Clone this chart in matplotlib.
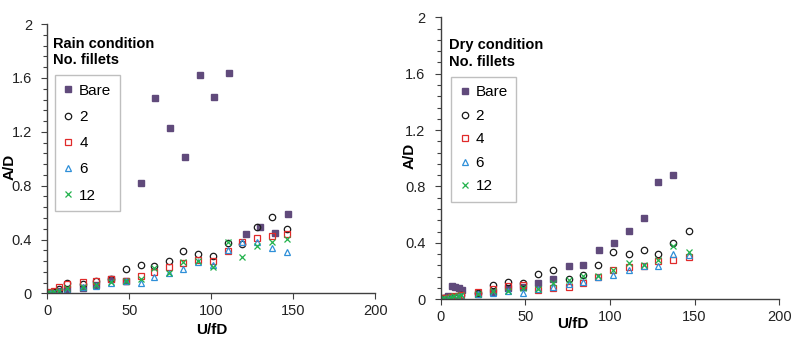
import matplotlib.pyplot as plt
from matplotlib.ticker import MultipleLocator

plt.rcParams['font.family'] = ['Liberation Sans', 'DejaVu Sans']

# rain condition
rain_x_bare = [0, 2, 4, 7, 12, 22, 30, 39, 48, 57, 66, 75, 84, 93, 102, 111, 121, 130, 139, 147]
rain_bare = [0, 0.005, 0.01, 0.02, 0.03, 0.04, 0.06, 0.11, 0.09, 0.82, 1.45, 1.23, 1.015, 1.62, 1.46, 1.64, 0.445, 0.49, 0.45, 0.59]
rain_x = [0, 2, 4, 7, 12, 22, 30, 39, 48, 57, 65, 74, 83, 92, 101, 110, 119, 128, 137, 146]
rain_2 = [0, 0.005, 0.01, 0.03, 0.075, 0.07, 0.09, 0.11, 0.178, 0.21, 0.203, 0.242, 0.316, 0.29, 0.277, 0.378, 0.365, 0.495, 0.57, 0.478]
rain_4 = [0, 0.01, 0.02, 0.045, 0.07, 0.086, 0.095, 0.105, 0.094, 0.128, 0.156, 0.198, 0.227, 0.247, 0.24, 0.314, 0.383, 0.408, 0.425, 0.445]
rain_6 = [0, 0, 0.005, 0.01, 0.025, 0.045, 0.055, 0.08, 0.09, 0.079, 0.119, 0.148, 0.178, 0.235, 0.21, 0.322, 0.379, 0.383, 0.341, 0.309]
rain_12 = [0, 0.003, 0.008, 0.015, 0.04, 0.05, 0.06, 0.085, 0.09, 0.11, 0.186, 0.148, 0.23, 0.24, 0.198, 0.383, 0.272, 0.351, 0.383, 0.401]

# dry condition
dry_x_bare = [0, 2, 4, 6.5, 8.5, 10.5, 12.5, 22, 31, 39.5, 48.5, 57.5, 66.5, 75.5, 84.3, 93.6, 102.4, 111.3, 120.2, 128.6, 137.5]
dry_bare = [0, 0.01, 0.02, 0.094, 0.09, 0.08, 0.065, 0.04, 0.05, 0.08, 0.085, 0.118, 0.144, 0.234, 0.24, 0.348, 0.402, 0.487, 0.579, 0.834, 0.884]
dry_x = [0, 2, 4, 6, 8, 10, 12, 22, 31, 39.5, 48.5, 57.5, 66.5, 75.5, 84, 93, 102, 111, 120, 128.6, 137.5, 146.4]
dry_2 = [0, 0.005, 0.01, 0.01, 0.015, 0.02, 0.03, 0.045, 0.1, 0.122, 0.113, 0.178, 0.21, 0.143, 0.17, 0.24, 0.332, 0.32, 0.347, 0.321, 0.397, 0.487]
dry_4 = [0.01, 0.005, 0.01, 0.015, 0.02, 0.025, 0.03, 0.05, 0.073, 0.094, 0.101, 0.066, 0.078, 0.09, 0.115, 0.156, 0.208, 0.227, 0.236, 0.271, 0.28, 0.302]
dry_6 = [0, 0, 0.003, 0.005, 0.01, 0.015, 0.02, 0.04, 0.045, 0.06, 0.045, 0.07, 0.089, 0.106, 0.125, 0.156, 0.172, 0.208, 0.236, 0.236, 0.321, 0.314]
dry_12 = [0, 0.005, 0.01, 0.015, 0.02, 0.025, 0.03, 0.04, 0.055, 0.06, 0.08, 0.07, 0.113, 0.137, 0.165, 0.163, 0.208, 0.26, 0.243, 0.279, 0.378, 0.338]

labels = ['Bare', '2', '4', '6', '12']
purple = '#604a7b'
black = '#1a1a1a'
red = '#e02a2a'
blue = '#2e8fd8'
green = '#22b24c'

fig = plt.figure(figsize=(8, 3.4), dpi=100)
ax1 = fig.add_axes([0.059, 0.137, 0.41, 0.792])
ax2 = fig.add_axes([0.551, 0.12, 0.423, 0.829])


def draw(ax, xb, bare, x, s2, s4, s6, s12, title, leg_xy, spacing, xlab_xy, ylab_xy):
    ax.plot(xb, bare, 's', ms=4.6, color=purple, mec=purple, label=labels[0])
    ax.plot(x, s2, 'o', ms=4.6, mfc='none', mec=black, mew=0.9, label=labels[1])
    ax.plot(x, s4, 's', ms=4.4, mfc='none', mec=red, mew=0.9, label=labels[2])
    ax.plot(x, s6, '^', ms=4.8, mfc='none', mec=blue, mew=0.9, label=labels[3])
    ax.plot(x, s12, 'x', ms=4.4, color=green, mew=0.9, label=labels[4])

    ax.set_xlim(0, 200)
    ax.set_ylim(0, 2)
    ax.xaxis.set_major_locator(MultipleLocator(50))
    ax.yaxis.set_major_locator(MultipleLocator(0.4))
    ax.yaxis.set_minor_locator(MultipleLocator(0.08))
    ax.yaxis.set_major_formatter(plt.FuncFormatter(lambda v, p: '0' if v == 0 else '%g' % v))
    ax.tick_params(axis='both', labelsize=10.5, colors='#404040', labelcolor='#222222', length=4, width=0.8)
    ax.tick_params(axis='y', pad=7)
    ax.tick_params(axis='y', which='minor', length=3, width=0.8, colors='#404040')
    for s in ['top', 'right']:
        ax.spines[s].set_visible(False)
    for s in ['left', 'bottom']:
        ax.spines[s].set_color('#404040')
        ax.spines[s].set_linewidth(1)
    ax.set_xlabel('U/fD', fontsize=11, fontweight='bold')
    ax.set_ylabel('A/D', fontsize=11, fontweight='bold')
    ax.xaxis.set_label_coords(*xlab_xy)
    ax.yaxis.set_label_coords(*ylab_xy)

    ax.text(leg_xy[0] - 0.005, leg_xy[1] + 0.115, title, transform=ax.transAxes,
            fontsize=10.5, fontweight='bold', va='center', ha='left')
    ax.text(leg_xy[0] - 0.005, leg_xy[1] + 0.055, 'No. fillets', transform=ax.transAxes,
            fontsize=10.5, fontweight='bold', va='center', ha='left')
    leg = ax.legend(loc='upper left', bbox_to_anchor=leg_xy, fontsize=11, frameon=True,
                    fancybox=False, edgecolor='#b0b0b0', labelspacing=spacing,
                    handlelength=0.7, handletextpad=0.35, borderpad=0.55, borderaxespad=0)
    leg.get_frame().set_linewidth(1)


draw(ax1, rain_x_bare, rain_bare, rain_x, rain_2, rain_4, rain_6, rain_12,
     'Rain condition', (0.023, 0.81), 0.8, (0.503, -0.108), (-0.092, 0.469))
draw(ax2, dry_x_bare, dry_bare, dry_x, dry_2, dry_4, dry_6, dry_12,
     'Dry condition', (0.03, 0.788), 0.62, (0.39, -0.064), (-0.07, 0.51))

plt.savefig('out.png', dpi=100)
